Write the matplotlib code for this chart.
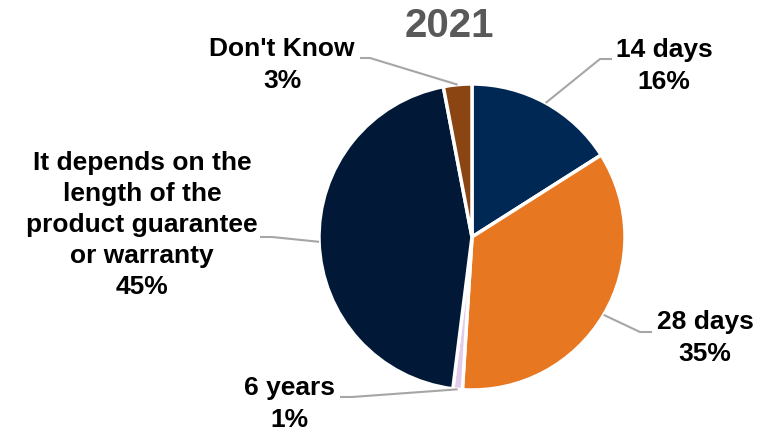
import numpy as np
import matplotlib.pyplot as plt

plt.rcParams['font.family'] = ['Liberation Sans', 'DejaVu Sans']

# survey answers, 2021
categories = ['14 days', '28 days', '6 years',
              'It depends on the\nlength of the\nproduct guarantee\nor warranty',
              "Don't Know"]
shares = [16, 35, 1, 45, 3]
colors = ['#002855', '#E87722', '#E3CCEB', '#011936', '#8B4513']

W, H = 780, 432
cx, cy, r = 472, H - 237, 153

# label centre and leader elbow (x, y measured from top) for each slice
label_pos = [(664, 66), (705, 338), (289, 404), (142, 225), (282, 65)]
elbows = [[(600, 59), (612, 59)],
          [(640, 332), (652, 332)],
          [(352, 397), (340, 397)],
          [(272, 237), (260, 237)],
          [(370, 58), (360, 58)]]

fig = plt.figure(figsize=(W / 100, H / 100), dpi=100)
ax = fig.add_axes([0, 0, 1, 1])

wedges, _ = ax.pie(shares, colors=colors, startangle=90, counterclock=False,
                   center=(cx, cy), radius=r,
                   wedgeprops=dict(edgecolor='white', linewidth=2.5))

# pie() sets its own limits, so fix the pixel-sized frame afterwards
ax.set_xlim(0, W)
ax.set_ylim(0, H)
ax.set_aspect('equal')
ax.axis('off')

for w, cat, val, (tx, ty), elb in zip(wedges, categories, shares, label_pos, elbows):
    mid = np.deg2rad((w.theta1 + w.theta2) / 2)
    ex, ey = cx + r * np.cos(mid), cy + r * np.sin(mid)
    xs = [ex] + [p[0] for p in elb]
    ys = [ey] + [H - p[1] for p in elb]
    ax.plot(xs, ys, color='#A6A6A6', linewidth=1.5, solid_capstyle='butt')
    ax.text(tx, H - ty, f'{cat}\n{val}%', ha='center', va='center',
            multialignment='center', fontsize=19, fontweight='bold',
            color='black', linespacing=1.37)

ax.text(449, H - 26, '2021', ha='center', va='center', fontsize=29,
        fontweight='bold', color='#595959')

fig.savefig('out.png', dpi=100)
